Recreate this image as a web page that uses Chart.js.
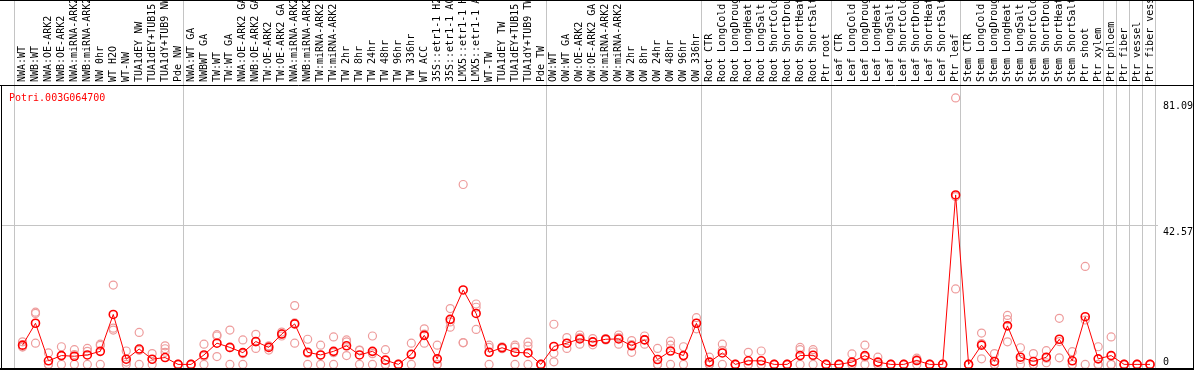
<!DOCTYPE html>
<html>
<head>
<meta charset="utf-8">
<script src="https://cdn.jsdelivr.net/npm/chart.js@4.4.1/dist/chart.umd.min.js"></script>
<style>
  html, body { margin: 0; padding: 0; background: #fff; }
  #wrap { width: 1194px; height: 370px; }
</style>
</head>
<body>
<div id="wrap"><canvas id="expChart" width="1194" height="370"></canvas></div>
<script>
const geneId = 'Potri.003G064700';

const categories = [
  'NWA:WT', 'NWB:WT', 'NWA:OE-ARK2', 'NWB:OE-ARK2', 'NWA:miRNA-ARK2', 'NWB:miRNA-ARK2',
  'NW 0hr', 'WT H2O', 'WT-NW', 'TUA1dEY NW', 'TUA1dEY+TUB15 NW', 'TUA1dY+TUB9 NW', 'Pde NW',
  'NWA:WT GA', 'NWBWT GA', 'TW:WT', 'TW:WT GA', 'NWA:OE-ARK2 GA', 'NWB:OE-ARK2 GA',
  'TW:OE-ARK2', 'TW:OE-ARK2 GA', 'NWA:miRNA-ARK2', 'NWB:miRNA-ARK2', 'TW:miRNA-ARK2',
  'TW:miRNA-ARK2', 'TW 2hr', 'TW 8hr', 'TW 24hr', 'TW 48hr', 'TW 96hr', 'TW 336hr', 'WT ACC',
  '35S::etr1-1 H2O', '35S::etr1-1 ACC', 'LMX5::etr1-1 H2O', 'LMX5::etr1-1 ACC', 'WT-TW',
  'TUA1dEY TW', 'TUA1dEY+TUB15 TW', 'TUA1dY+TUB9 TW', 'Pde TW',
  'OW:WT', 'OW:WT GA', 'OW:OE-ARK2', 'OW:OE-ARK2 GA', 'OW:miRNA-ARK2', 'OW:miRNA-ARK2',
  'OW 2hr', 'OW 8hr', 'OW 24hr', 'OW 48hr', 'OW 96hr', 'OW 336hr',
  'Root CTR', 'Root LongCold', 'Root LongDrought', 'Root LongHeat', 'Root LongSalt',
  'Root ShortCold', 'Root ShortDrought', 'Root ShortHeat', 'Root ShortSalt', 'Ptr root',
  'Leaf CTR', 'Leaf LongCold', 'Leaf LongDrought', 'Leaf LongHeat', 'Leaf LongSalt',
  'Leaf ShortCold', 'Leaf ShortDrought', 'Leaf ShortHeat', 'Leaf ShortSalt', 'Ptr leaf',
  'Stem CTR', 'Stem LongCold', 'Stem LongDrought', 'Stem LongHeat', 'Stem LongSalt',
  'Stem ShortCold', 'Stem ShortDrought', 'Stem ShortHeat', 'Stem ShortSalt', 'Ptr shoot',
  'Ptr xylem', 'Ptr phloem', 'Ptr fiber', 'Ptr vessel', 'Ptr fiber vessel'
];

// mean expression per sample
const meanValues = [
  5.9, 12.6, 1.1, 2.7, 2.5, 2.9, 4.0, 15.3, 1.6, 4.7, 1.6, 2.1, 0,
  0, 2.9, 6.5, 5.2, 3.6, 7.0, 5.2, 9.3, 12.4, 3.7, 2.9, 4.0, 5.7, 2.9, 4.0, 1.3, 0, 3.1,
  8.9, 1.7, 13.8, 22.8, 15.6, 3.7, 5.1, 3.7, 3.5, 0,
  5.5, 6.5, 7.8, 6.9, 7.7, 7.8, 5.7, 7.5, 1.5, 4.1, 2.7, 12.6,
  0.7, 3.5, 0, 1.1, 1.1, 0, 0, 2.7, 2.8, 0,
  0, 0.7, 2.7, 0.7, 0, 0, 1.2, 0, 0, 51.9,
  0, 5.9, 0.9, 11.8, 2.2, 0.9, 2.2, 7.7, 1.1, 14.6, 1.7,
  2.7, 0, 0, 0
];

// individual replicates
const rep1 = [
  6.9, 16.0, 3.5, 5.4, 4.5, 4.9, 6.2, 24.3, 4.1, 9.8, 3.3, 5.7, 0,
  0, 6.2, 8.7, 10.5, 7.5, 9.2, 5.5, 9.9, 18.0, 7.7, 5.9, 8.4, 7.5, 4.4, 8.7, 4.5, 0, 6.5,
  10.9, 5.9, 17.1, 55.1, 18.5, 5.9, 5.4, 5.9, 6.8, 0,
  12.3, 8.2, 9.0, 7.9, 7.9, 9.0, 7.3, 8.7, 4.9, 7.1, 5.4, 14.3,
  2.2, 6.2, 0, 3.7, 4.1, 0, 0, 5.2, 4.5, 0,
  0, 3.2, 5.9, 2.2, 0, 0, 1.9, 0, 0, 81.6,
  0, 9.6, 3.3, 15.0, 5.1, 3.3, 4.2, 14.1, 3.9, 30.0, 5.4,
  8.4, 0, 0, 0
];
const rep2 = [
  5.5, 15.6, 0, 0, 0, 4.0, 5.8, 10.5, 0.7, 4.3, 1.5, 4.8, 0,
  0, 0, 9.1, 0, 0, 4.9, 4.4, 9.3, 6.5, 0, 0, 0, 6.9, 4.3, 0, 0, 0, 0,
  6.5, 0, 11.4, 6.7, 17.5, 5.2, 4.8, 5.3, 5.6, 0,
  3.4, 4.9, 6.2, 6.0, 7.5, 6.2, 3.7, 6.2, 0, 5.9, 0, 10.9,
  0, 0, 0, 0, 0, 0, 0, 4.5, 3.8, 0,
  0, 0, 0, 0, 0, 0, 1.5, 0, 0, 51.4,
  0, 1.7, 0, 13.7, 0, 0, 1.9, 2.0, 0, 13.6, 0,
  0, 0, 0, 0
];
const rep3 = [
  5.3, 6.5, 0, 2.7, 3.0, 0, 0, 11.1, 0, 0, 0, 3.7, 0,
  0, 2.5, 2.4, 5.1, 3.3, 6.9, 5.7, 8.7, 12.7, 3.4, 2.8, 3.6, 2.7, 0, 3.3, 0, 0, 2.9,
  9.3, 0, 13.0, 6.6, 10.7, 0, 5.1, 0, 0, 0,
  0.8, 6.4, 8.2, 6.8, 7.7, 8.2, 6.1, 7.6, 0, 0, 2.7, 12.6,
  0, 4.3, 0, 0, 0, 0, 0, 0, 0, 0,
  0, 0, 2.3, 0, 0, 0, 0, 0, 0, 23.1,
  0, 6.4, 0, 6.9, 1.5, 0, 0.5, 7.0, 0, 0, 0,
  0, 0, 0, 0
];

// group separators sit before these sample indexes
const separatorsBefore = [0, 13, 41, 53, 63, 73, 84, 85, 86, 87, 88];
const yTickValues = [81.09, 42.57, 0];

const toPoints = arr => arr.map((v, i) => ({ x: i, y: v }));

const MONO = '10px "DejaVu Sans Mono", "Liberation Mono", monospace';
const W = 1194, H = 370, HEADER = 86;

const framePlugin = {
  id: 'frame',
  beforeDatasetsDraw(chart) {
    const { ctx, scales: { x, y } } = chart;
    ctx.save();
    ctx.fillStyle = '#fff';
    ctx.fillRect(0, 0, W, H);

    // group separators
    ctx.strokeStyle = '#c4c4c4';
    ctx.lineWidth = 1;
    separatorsBefore.forEach(k => {
      const px = Math.round(x.getPixelForValue(k - 0.64)) + 0.5;
      ctx.beginPath();
      ctx.moveTo(px, 0);
      ctx.lineTo(px, H);
      ctx.stroke();
    });

    // mid gridline
    const gy = Math.round(y.getPixelForValue(yTickValues[1])) + 0.5;
    ctx.beginPath();
    ctx.moveTo(2, gy);
    ctx.lineTo(1158, gy);
    ctx.stroke();

    // sample labels, rotated
    ctx.fillStyle = '#000';
    ctx.font = MONO;
    ctx.textAlign = 'left';
    ctx.textBaseline = 'middle';
    ctx.beginPath();
    ctx.rect(0, 0, W, HEADER - 1);
    ctx.clip();
    categories.forEach((name, i) => {
      ctx.save();
      ctx.translate(x.getPixelForValue(i), 82);
      ctx.rotate(-Math.PI / 2);
      ctx.fillText(name, 0, 0);
      ctx.restore();
    });
    ctx.restore();
  },
  afterDraw(chart) {
    const { ctx, scales: { y } } = chart;
    ctx.save();
    ctx.strokeStyle = '#000';
    ctx.lineWidth = 1;
    ctx.beginPath();
    ctx.moveTo(0, 0.5); ctx.lineTo(W, 0.5);
    ctx.moveTo(0, HEADER - 0.5); ctx.lineTo(W, HEADER - 0.5);
    ctx.moveTo(W - 0.5, 0); ctx.lineTo(W - 0.5, H);
    ctx.moveTo(1.5, HEADER); ctx.lineTo(1.5, H);
    ctx.stroke();
    ctx.lineWidth = 2;
    ctx.beginPath();
    ctx.moveTo(0, 369); ctx.lineTo(W, 369);
    ctx.stroke();

    ctx.font = MONO;
    ctx.textAlign = 'left';
    ctx.textBaseline = 'alphabetic';
    ctx.fillStyle = '#ff0000';
    ctx.fillText(geneId, 9, 100.5);

    ctx.fillStyle = '#000';
    yTickValues.forEach(v => {
      const base = Math.min(y.getPixelForValue(v) + 9.5, 365);
      ctx.fillText(String(v), 1163, base);
    });
    ctx.restore();
  }
};

const repStyle = {
  type: 'scatter',
  pointRadius: 4,
  pointBorderWidth: 1.2,
  pointBorderColor: '#ee9c9c',
  pointBackgroundColor: 'rgba(0,0,0,0)',
  showLine: false,
  order: 2,
  clip: false
};

new Chart(document.getElementById('expChart'), {
  type: 'line',
  data: {
    datasets: [
      {
        label: 'mean',
        data: toPoints(meanValues),
        borderColor: '#ff0000',
        borderWidth: 1,
        pointRadius: 4,
        pointBorderWidth: 1.6,
        pointBorderColor: '#ff0000',
        pointBackgroundColor: 'rgba(0,0,0,0)',
        tension: 0,
        order: 1,
        clip: false
      },
      Object.assign({ label: 'rep1', data: toPoints(rep1) }, repStyle),
      Object.assign({ label: 'rep2', data: toPoints(rep2) }, repStyle),
      Object.assign({ label: 'rep3', data: toPoints(rep3) }, repStyle)
    ]
  },
  options: {
    responsive: false,
    devicePixelRatio: 1,
    animation: false,
    layout: { padding: { left: 2, right: 36, top: HEADER, bottom: 1 } },
    plugins: { legend: { display: false }, tooltip: { enabled: false } },
    scales: {
      x: { type: 'linear', display: false, min: (2 - 19) / 13, max: (1158 - 19) / 13 },
      y: { display: false, min: 0, max: 85.26 }
    }
  },
  plugins: [framePlugin]
});
</script>
</body>
</html>
